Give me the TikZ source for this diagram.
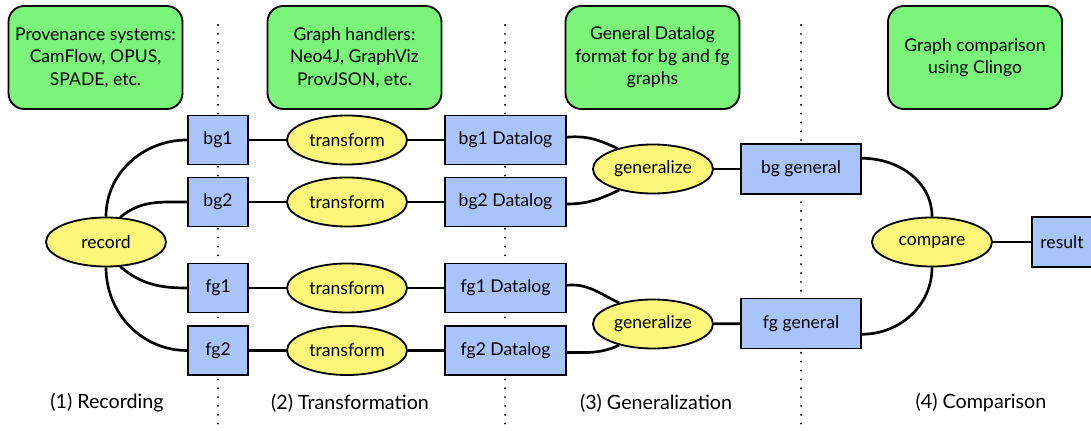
\documentclass[tikz,border=0pt]{standalone}
\usepackage{fontspec}
\setmainfont{Lato}
\usetikzlibrary{shapes.geometric}

\definecolor{boxblue}{RGB}{168,196,250}
\definecolor{opyellow}{RGB}{251,246,122}
\definecolor{notegreen}{RGB}{122,245,122}

\begin{document}
\begin{tikzpicture}
	[x=0.025cm,y=-0.025cm,
	every node/.style={font=\fontsize{12.5}{16}\selectfont},
	graphbox/.style={draw,line width=1.3pt,fill=boxblue,minimum height=1.225cm,inner sep=0pt},
	op/.style={draw,line width=1.3pt,ellipse,fill=opyellow,minimum width=3cm,minimum height=1.225cm,inner sep=0pt},
	note/.style={draw,line width=1.3pt,fill=notegreen,rounded corners=0.4cm,minimum width=4.35cm,minimum height=2.575cm,align=center,inner sep=0pt},
	link/.style={line width=1.9pt},
	stage/.style={line width=1.5pt,dash pattern=on 0pt off 6.3pt,line cap=round},
	stagename/.style={font=\fontsize{14}{17}\selectfont}]
	\useasboundingbox (0,0) rectangle (1091,431);

	% stage separators
	\draw[stage] (218,25) -- (218,431);
	\draw[stage] (505,25) -- (505,431);
	\draw[stage] (801,25) -- (801,431);

	% notes on top
	\node[note] (sys) at (95.5,57.5) {Provenance systems:\\CamFlow, OPUS,\\SPADE, etc.};
	\node[note] (hand) at (354.5,57.5) {Graph handlers:\\Neo4J, GraphViz\\ProvJSON, etc.};
	\node[note] (fmt) at (652.5,57.5) {General Datalog\\format for bg and fg\\graphs};
	\node[note] (cmp) at (975,57.5) {Graph comparison\\using Clingo};

	% recording
	\node[op] (record) at (106,242) {record};
	\node[graphbox,minimum width=1.5cm] (bg1) at (218,140) {bg1};
	\node[graphbox,minimum width=1.5cm] (bg2) at (218,202) {bg2};
	\node[graphbox,minimum width=1.5cm] (fg1) at (218,288) {fg1};
	\node[graphbox,minimum width=1.5cm] (fg2) at (218,350.5) {fg2};

	% transformation
	\node[op] (tbg1) at (347,140) {transform};
	\node[op] (tbg2) at (347,202) {transform};
	\node[op] (tfg1) at (347,288) {transform};
	\node[op] (tfg2) at (347,350.5) {transform};
	\node[graphbox,minimum width=3.025cm] (dbg1) at (505.5,140) {bg1 Datalog};
	\node[graphbox,minimum width=3.025cm] (dbg2) at (505.5,202) {bg2 Datalog};
	\node[graphbox,minimum width=3.025cm] (dfg1) at (505.5,288) {fg1 Datalog};
	\node[graphbox,minimum width=3.025cm] (dfg2) at (505.5,350.5) {fg2 Datalog};

	% generalization
	\node[op] (genbg) at (653,169) {generalize};
	\node[op] (genfg) at (653,324) {generalize};
	\node[graphbox,minimum width=3cm,minimum height=1.25cm] (bggen) at (801,169) {bg general};
	\node[graphbox,minimum width=3cm,minimum height=1.25cm] (fggen) at (801,323.5) {fg general};

	% comparison
	\node[op] (compare) at (932,242) {compare};
	\node[graphbox,minimum width=1.5cm,minimum height=1.25cm] (result) at (1062,242) {result};

	\draw[link] (record.north) to[out=90,in=180] (bg1.west);
	\draw[link] (record.60) to[out=40,in=180] (bg2.west);
	\draw[link] (record.-60) to[out=-40,in=180] (fg1.west);
	\draw[link] (record.south) to[out=-90,in=180] (fg2.west);

	\draw[link] (bg1) -- (tbg1) -- (dbg1);
	\draw[link] (bg2) -- (tbg2) -- (dbg2);
	\draw[link] (fg1) -- (tfg1) -- (dfg1);
	\draw[link] (fg2) -- (tfg2) -- (dfg2);

	\draw[link] ([yshift=0.07cm]dbg1.east) to[out=5,in=155] (genbg.150);
	\draw[link] ([yshift=-0.05cm]dbg2.east) to[out=0,in=205] (genbg.212);
	\draw[link] ([yshift=0.07cm]dfg1.east) to[out=5,in=155] (genfg.148);
	\draw[link] ([yshift=-0.05cm]dfg2.east) to[out=0,in=205] (genfg.212);
	\draw[link] (genbg) -- (bggen);
	\draw[link] (genfg) -- (fggen);

	\draw[link] (bggen.10) to[out=0,in=90] (compare.north);
	\draw[link] (fggen.-10) to[out=0,in=-90] (compare.south);
	\draw[link] (compare) -- (result);

	% stage names
	\node[stagename] (s1) at (107,403) {(1) Recording};
	\node[stagename] (s2) at (350,403) {(2) Transformation};
	\node[stagename] (s3) at (656,403) {(3) Generalization};
	\node[stagename] (s4) at (981,403) {(4) Comparison};
\end{tikzpicture}
\end{document}
